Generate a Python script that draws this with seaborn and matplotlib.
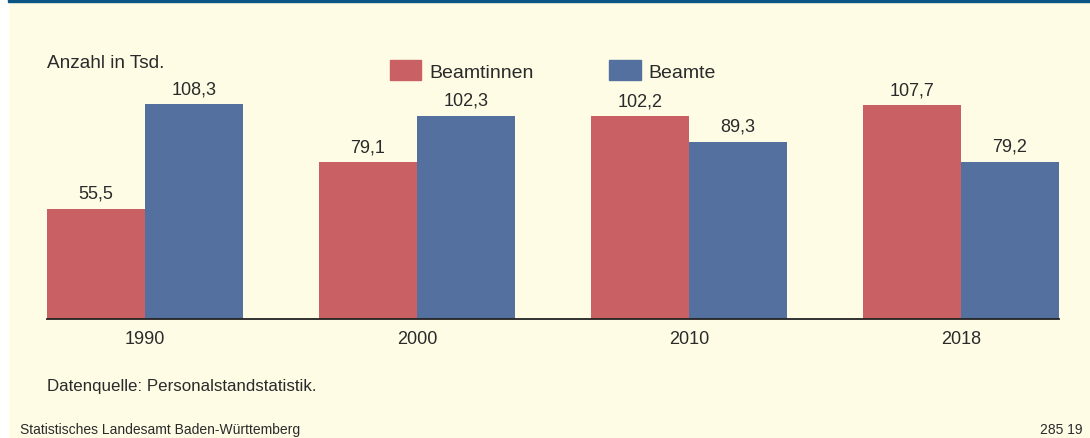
import numpy as np
import pandas as pd
import seaborn as sns
import matplotlib.pyplot as plt
from matplotlib.patches import Rectangle

years = ['1990', '2000', '2010', '2018']
beamtinnen = [55.5, 79.1, 102.2, 107.7]
beamte = [108.3, 102.3, 89.3, 79.2]
series = ['Beamtinnen', 'Beamte']
farben = ['#C96064', '#53709F']

bg = '#FFFCE6'
txt = '#2A2A2A'

df = pd.DataFrame({
    'Jahr': years * 2,
    'Anzahl': beamtinnen + beamte,
    'Gruppe': [series[0]] * 4 + [series[1]] * 4,
})

sns.set_theme(style='white')
plt.rcParams['font.family'] = ['Liberation Sans', 'DejaVu Sans']

W, H = 1090, 439
fig = plt.figure(figsize=(W / 100, H / 100), dpi=100, facecolor=bg)
ax = fig.add_axes([47 / W, 1 - 320 / H, (1059 - 47) / W, (320 - 40) / H])
ax.set_facecolor(bg)

sns.barplot(data=df, x='Jahr', y='Anzahl', hue='Gruppe', order=years,
            hue_order=series, palette=farben, width=0.72, saturation=1,
            gap=0, linewidth=0, ax=ax)

# Werte über den Balken
for cont, werte in zip(ax.containers, [beamtinnen, beamte]):
    ax.bar_label(cont, labels=[f'{v:.1f}'.replace('.', ',') for v in werte],
                 padding=5, fontsize=13, color=txt)

ax.set_xlim(-0.36, 3.36)
ax.set_ylim(0, 280 / 1.985)
ax.set_xlabel('')
ax.set_ylabel('')
ax.set_yticks([])
ax.tick_params(axis='x', length=0, pad=8, labelsize=13, labelcolor=txt)
for s in ['top', 'right', 'left']:
    ax.spines[s].set_visible(False)
ax.spines['bottom'].set_color('#222222')
ax.spines['bottom'].set_linewidth(1.3)

ax.get_legend().remove()
handles = [Rectangle((0, 0), 1, 1, color=c) for c in farben]
fig.legend(handles, series, loc='upper left', bbox_to_anchor=(390 / W, 1 - 61 / H),
           ncol=2, frameon=False, fontsize=14, handlelength=1.6,
           handleheight=1.2, handletextpad=0.42, columnspacing=3.9,
           borderpad=0, borderaxespad=0, labelcolor=txt)

fig.text(47 / W, 1 - 63 / H, 'Anzahl in Tsd.', fontsize=13.7, color=txt,
         va='center', ha='left')
fig.text(47 / W, 1 - 387 / H, 'Datenquelle: Personalstandstatistik.',
         fontsize=12.2, color=txt, va='center', ha='left')
fig.text(20 / W, 1 - 430 / H, 'Statistisches Landesamt Baden-Württemberg',
         fontsize=10, color=txt, va='center', ha='left')
fig.text(1083 / W, 1 - 430 / H, '285 19', fontsize=10, color=txt,
         va='center', ha='right')

# weißer Rand links und blaue Linie oben
fig.patches.append(Rectangle((0, 0), 8 / W, 1, transform=fig.transFigure,
                             color='white', zorder=0))
fig.patches.append(Rectangle((8 / W, 1 - 3 / H), 1, 3 / H,
                             transform=fig.transFigure, color='#0B5585',
                             zorder=0))

fig.savefig('out.png', dpi=100, facecolor=bg)
